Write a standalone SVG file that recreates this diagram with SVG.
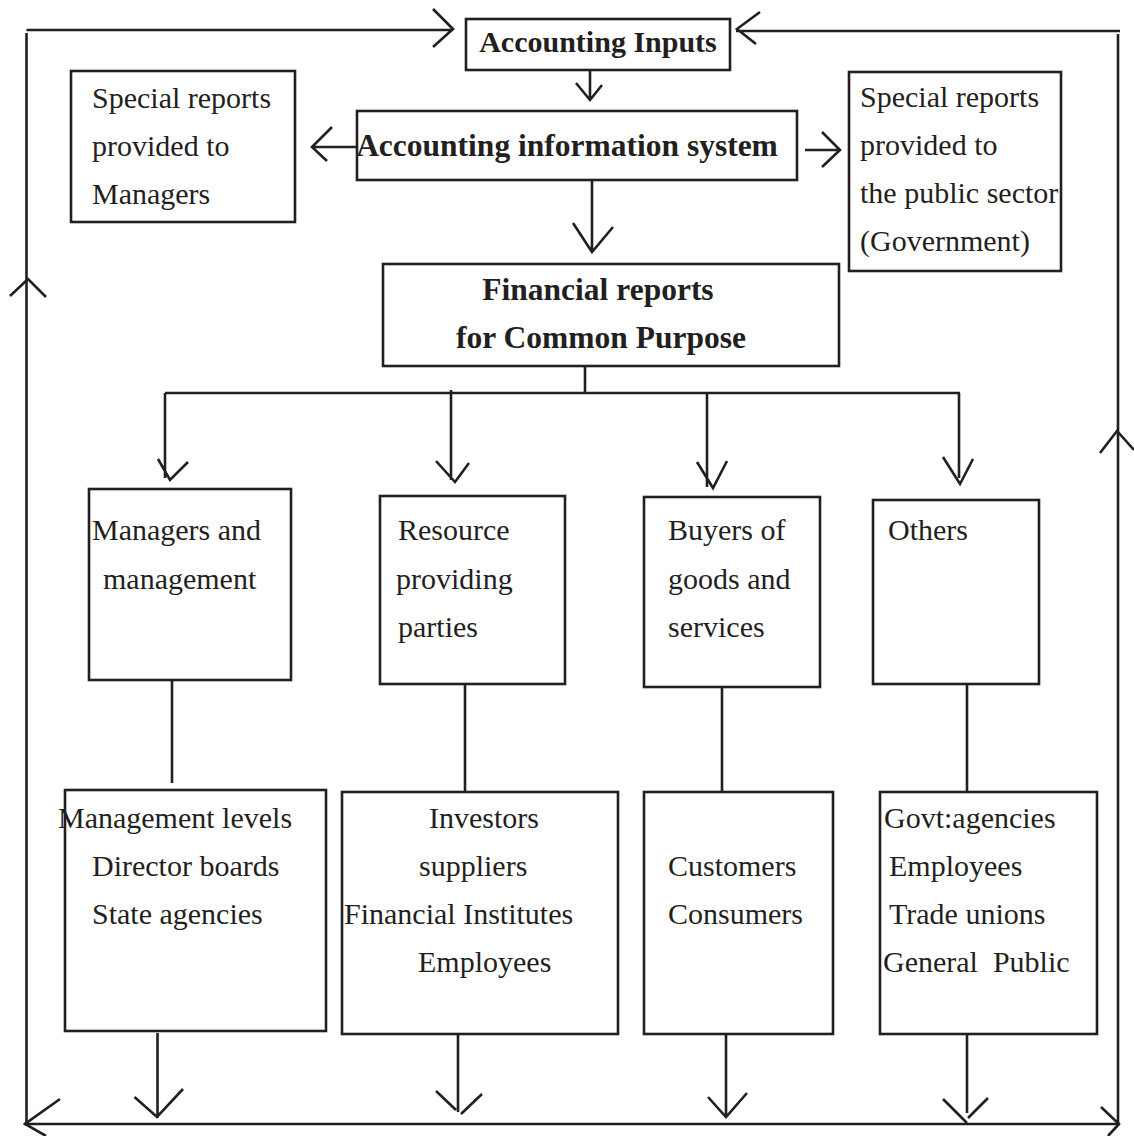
<svg xmlns="http://www.w3.org/2000/svg" width="1134" height="1136" viewBox="0 0 1134 1136">
<style>
.box{fill:#fff;stroke:#231f20;stroke-width:2.6}
.ln{fill:none;stroke:#231f20;stroke-width:2.6;stroke-linecap:butt;stroke-linejoin:miter}
text{font-family:"Liberation Serif","Times New Roman",serif;fill:#231f20;font-size:30px}
.b{font-weight:bold;font-size:31.5px}
</style>
<rect width="1134" height="1136" fill="#fff"/>
<g id="connectors">
  <!-- outer loop -->
  <path class="ln" d="M26.5,30 L453,30 M433,9 L453,29 L433,47"/>
  <path class="ln" d="M26.5,33 L26.5,1124"/>
  <path class="ln" d="M10,296 L28,279 L46,297"/>
  <path class="ln" d="M736,31 L1120,31 M760,12 L737,29 L756,44"/>
  <path class="ln" d="M1118,34 L1118,1124"/>
  <path class="ln" d="M1100,453 L1117,431 L1134,450"/>
  <path class="ln" d="M24,1124 L1120,1124"/>
  <path class="ln" d="M60,1099 L25,1124 L46,1136"/>
  <path class="ln" d="M1101,1107 L1119,1124 L1108,1136"/>
  <!-- top chain -->
  <path class="ln" d="M590,70 L590,100 M576,83 L590,100 L602,85"/>
  <path class="ln" d="M366,147 L312,147 M332,127 L312,147 L327,161"/>
  <path class="ln" d="M805,150 L840,150 M822,132 L840,150 L822,167"/>
  <path class="ln" d="M592,180 L592,252 M573,223 L592,252 L613,227"/>
  <!-- distribution -->
  <path class="ln" d="M585,366 L585,393 M165,393 L960,393"/>
  <path class="ln" d="M165,393 L165,478 M158,459 L170,480 L188,462"/>
  <path class="ln" d="M451,390 L451,480 M436,461 L455,482 L469,463"/>
  <path class="ln" d="M707,393 L707,487 M697,462 L713,488 L727,461"/>
  <path class="ln" d="M959,393 L959,478 M943,457 L960,484 L973,459"/>
  <!-- vertical links -->
  <path class="ln" d="M172,679 L172,783"/>
  <path class="ln" d="M465,685 L465,792"/>
  <path class="ln" d="M722,687 L722,792"/>
  <path class="ln" d="M967,684 L967,792"/>
  <!-- bottom arrows -->
  <path class="ln" d="M157.5,1033 L157.5,1118 M134.5,1097 L157,1117 L183,1089"/>
  <path class="ln" d="M458,1034 L458,1112 M436,1091 L456,1110 M461,1114 L482,1094"/>
  <path class="ln" d="M726,1034 L726,1117 M708,1097 L726,1117 L747,1093"/>
  <path class="ln" d="M967,1034 L967,1113 M943,1099 L967,1123 M968,1118 L988,1098"/>
</g>
<g id="n-inputs">
  <rect class="box" x="466" y="19" width="264" height="51"/>
  <text class="b" x="598" y="52" text-anchor="middle" style="font-size:30px">Accounting Inputs</text>
</g>
<g id="n-special-managers">
  <rect class="box" x="71" y="71" width="224" height="151"/>
  <text x="92" y="108">Special reports</text>
  <text x="92" y="156">provided to</text>
  <text x="92" y="204">Managers</text>
</g>
<g id="n-ais">
  <rect class="box" x="357" y="111" width="440" height="69"/>
  <text class="b" x="567" y="156" text-anchor="middle">Accounting information system</text>
</g>
<g id="n-special-public">
  <rect class="box" x="849" y="72" width="212" height="199"/>
  <text x="860" y="107">Special reports</text>
  <text x="860" y="155">provided to</text>
  <text x="860" y="203">the public sector</text>
  <text x="860" y="251">(Government)</text>
</g>
<g id="n-financial">
  <rect class="box" x="383" y="264" width="456" height="102"/>
  <text class="b" x="598" y="300" text-anchor="middle">Financial reports</text>
  <text class="b" x="601" y="348" text-anchor="middle">for Common Purpose</text>
</g>
<g id="n-managers">
  <rect class="box" x="89" y="489" width="202" height="191"/>
  <text x="92" y="540">Managers and</text>
  <text x="103" y="589">management</text>
</g>
<g id="n-resource">
  <rect class="box" x="380" y="496" width="185" height="188"/>
  <text x="398" y="540">Resource</text>
  <text x="396" y="589">providing</text>
  <text x="398" y="637">parties</text>
</g>
<g id="n-buyers">
  <rect class="box" x="644" y="497" width="176" height="190"/>
  <text x="668" y="540">Buyers of</text>
  <text x="668" y="589">goods and</text>
  <text x="668" y="637">services</text>
</g>
<g id="n-others">
  <rect class="box" x="873" y="500" width="166" height="184"/>
  <text x="888" y="540">Others</text>
</g>
<g id="n-management-levels">
  <rect class="box" x="65" y="790" width="261" height="241"/>
  <text x="58" y="828">Management levels</text>
  <text x="92" y="876">Director boards</text>
  <text x="92" y="924">State agencies</text>
</g>
<g id="n-investors">
  <rect class="box" x="342" y="792" width="276" height="242"/>
  <text x="429" y="828">Investors</text>
  <text x="419" y="876">suppliers</text>
  <text x="344" y="924">Financial Institutes</text>
  <text x="418" y="972">Employees</text>
</g>
<g id="n-customers">
  <rect class="box" x="644" y="792" width="189" height="242"/>
  <text x="668" y="876">Customers</text>
  <text x="668" y="924">Consumers</text>
</g>
<g id="n-govt">
  <rect class="box" x="880" y="792" width="217" height="242"/>
  <text x="884" y="828">Govt:agencies</text>
  <text x="889" y="876">Employees</text>
  <text x="889" y="924">Trade unions</text>
  <text x="883" y="972" xml:space="preserve">General  Public</text>
</g>
</svg>
